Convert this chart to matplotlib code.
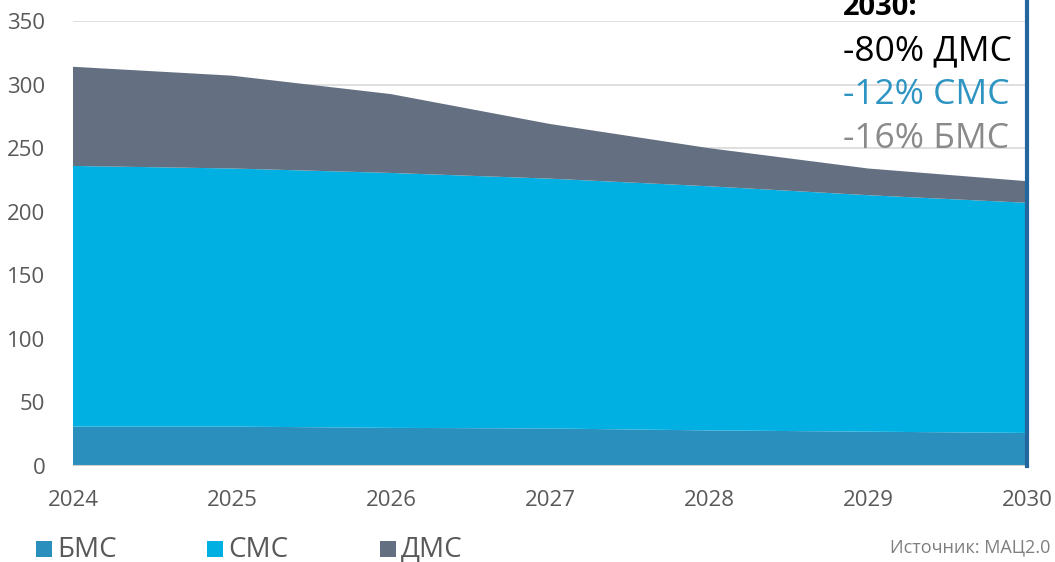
import matplotlib
matplotlib.use("Agg")
import matplotlib.pyplot as plt
from matplotlib.patches import Rectangle
from matplotlib.lines import Line2D

years = [2024, 2025, 2026, 2027, 2028, 2029, 2030]
bms = [31, 31, 30, 29.5, 28, 27, 26]
sms = [205, 203, 200.5, 196.5, 192, 186, 181]
dms = [78, 73, 62, 43, 30, 21, 17]
series_names = ["БМС", "СМС", "ДМС"]
colors = ["#2a8fbd", "#00b0e3", "#647082"]
yticks = [0, 50, 100, 150, 200, 250, 300, 350]
notes = ["-80% ДМС", "-12% СМС", "-16% БМС"]
note_colors = ["#000000", "#2e95c3", "#8a8a8a"]
source = "Источник: МАЦ2.0"

plt.rcParams['font.family'] = ['Open Sans', 'DejaVu Sans']

W, H = 1055, 562
fig = plt.figure(figsize=(W / 100, H / 100), dpi=100)
ax = fig.add_axes([73 / W, (H - 466) / H, (1027 - 73) / W, (466 - 21) / H])

ax.stackplot(years, bms, sms, dms, colors=colors, linewidth=0, zorder=2)

ax.set_xlim(2024, 2030)
ax.set_ylim(0, 350)
ax.set_yticks(yticks)
ax.set_xticks(years)
ax.set_xticklabels([str(y) for y in years])
for y in yticks[1:]:
    ax.axhline(y, color="#d9d9d9", lw=1.2, zorder=1)
ax.axhline(0, color="#d0d0d0", lw=1.5, zorder=3)
for s in ax.spines.values():
    s.set_visible(False)
ax.tick_params(axis='both', length=0, labelsize=16, labelcolor="#595959")
ax.tick_params(axis='x', pad=17)
ax.tick_params(axis='y', pad=20)
for lbl in ax.get_yticklabels():
    lbl.set_horizontalalignment('right')

# vertical marker line at 2030
fig.add_artist(Line2D([1027 / W, 1027 / W], [(H - 466) / H, 1.0],
                      color="#24679e", lw=3, transform=fig.transFigure))

# annotation
fig.text(843 / W, 1 - 15 / H, "2030:", fontsize=21, fontweight='bold',
         color="#000000", va='baseline', ha='left')
baselines = [60, 104, 148]
for txt, c, b in zip(notes, note_colors, baselines):
    fig.text(843 / W, 1 - b / H, txt, fontsize=25.5, color=c,
             va='baseline', ha='left')

# legend
leg_x = [36, 207, 380]
for name, c, x in zip(series_names, colors, leg_x):
    fig.add_artist(Rectangle((x / W, 1 - 557 / H), 16 / W, 16 / H,
                             transform=fig.transFigure, color=c, lw=0))
    fig.text((x + 21) / W, 1 - 557 / H, name, fontsize=20, color="#595959",
             va='baseline', ha='left')

fig.text(1050 / W, 1 - 553 / H, source, fontsize=13, color="#7f7f7f",
         ha='right', va='baseline')

fig.savefig("out.png", dpi=100)
